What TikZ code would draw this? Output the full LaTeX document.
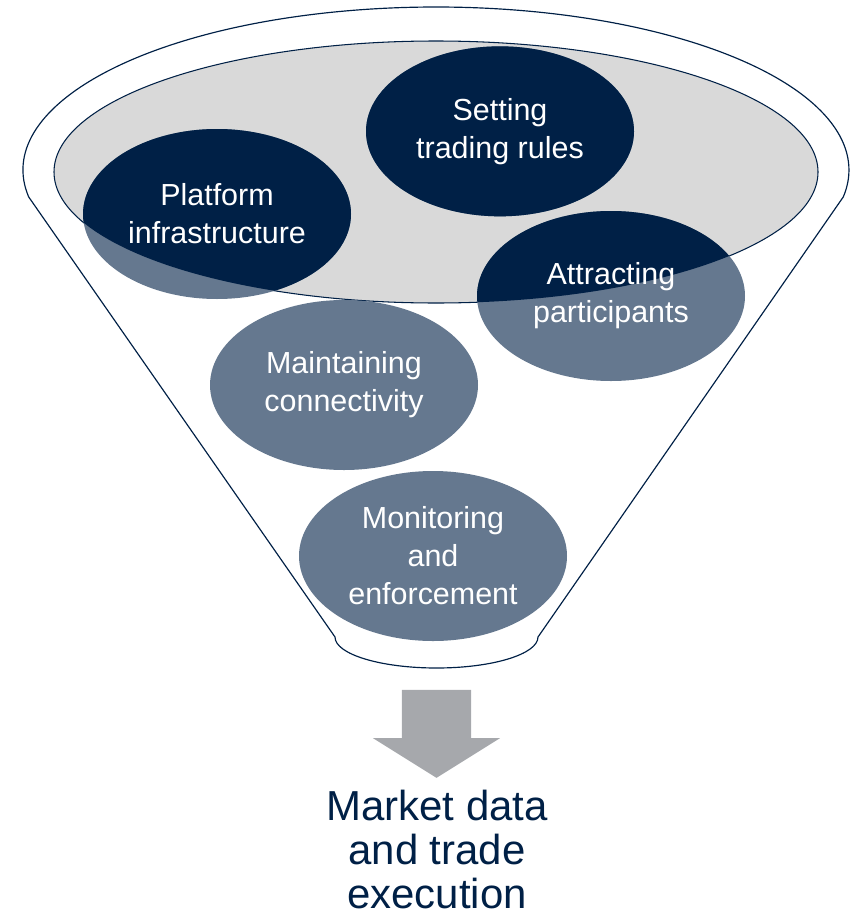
\documentclass[tikz,border=0pt]{standalone}
\usepackage{fontspec}
\setmainfont{Liberation Sans}
\usetikzlibrary{shapes,arrows,positioning}

\definecolor{funnelnavy}{RGB}{0,32,70}
\definecolor{slate}{RGB}{101,120,143}
\definecolor{bowlgray}{RGB}{217,217,217}
\definecolor{flowgray}{RGB}{166,168,172}

\begin{document}
\begin{tikzpicture}[node distance=3cm,on grid,
    task/.style={ellipse, fill=slate, text=white, inner sep=0pt,
      minimum width=8.04cm, minimum height=5.1cm, align=center,
      font=\fontsize{26}{32.4}\selectfont,
      path picture={\fill[funnelnavy] (bowl.center) ellipse [x radius=11.46cm, y radius=3.93cm];}}]
  \useasboundingbox (0,0) rectangle (25.53,-27.45);

  % funnel outline
  \draw[funnelnavy, line width=1pt, fill=white]
    (0.86,-5.907) arc[start angle=189.5, end angle=-9.5, x radius=12.39cm, y radius=4.89cm]
    -- (16.14,-19.11) arc[start angle=0, end angle=-180, x radius=3.045cm, y radius=0.93cm]
    -- cycle;

  \node[ellipse, draw=funnelnavy, fill=bowlgray, line width=0.9pt, inner sep=0pt,
    minimum width=22.92cm, minimum height=7.86cm] (bowl) at (13.08,-5.16) {};

  \node[task] (rules) [above right=1.22cm and 1.92cm of bowl] {Setting\\trading rules};
  \node[task] (platform) [below left=1.26cm and 6.57cm of bowl] {Platform\\infrastructure};
  \node[task] (attract) [below right=3.72cm and 5.25cm of bowl] {Attracting\\participants};
  \node[task] (connect) [below left=6.39cm and 2.76cm of bowl] {Maintaining\\connectivity};
  \node[task] (monitor) [below right=5.13cm and 2.67cm of connect] {Monitoring\\and\\enforcement};

  % output of the funnel
  \node[single arrow, fill=flowgray, draw=none, inner xsep=1.035cm, inner ysep=0pt,
    minimum width=3.81cm, minimum height=2.64cm, single arrow head extend=0.87cm,
    single arrow tip angle=116, shape border rotate=270] (flow) at (13.095,-21.69) {};
  \node[text=funnelnavy, align=center, font=\fontsize{35.8}{37.5}\selectfont]
    (result) at (13.11,-25.49) {Market data\\and trade\\execution};
\end{tikzpicture}
\end{document}
